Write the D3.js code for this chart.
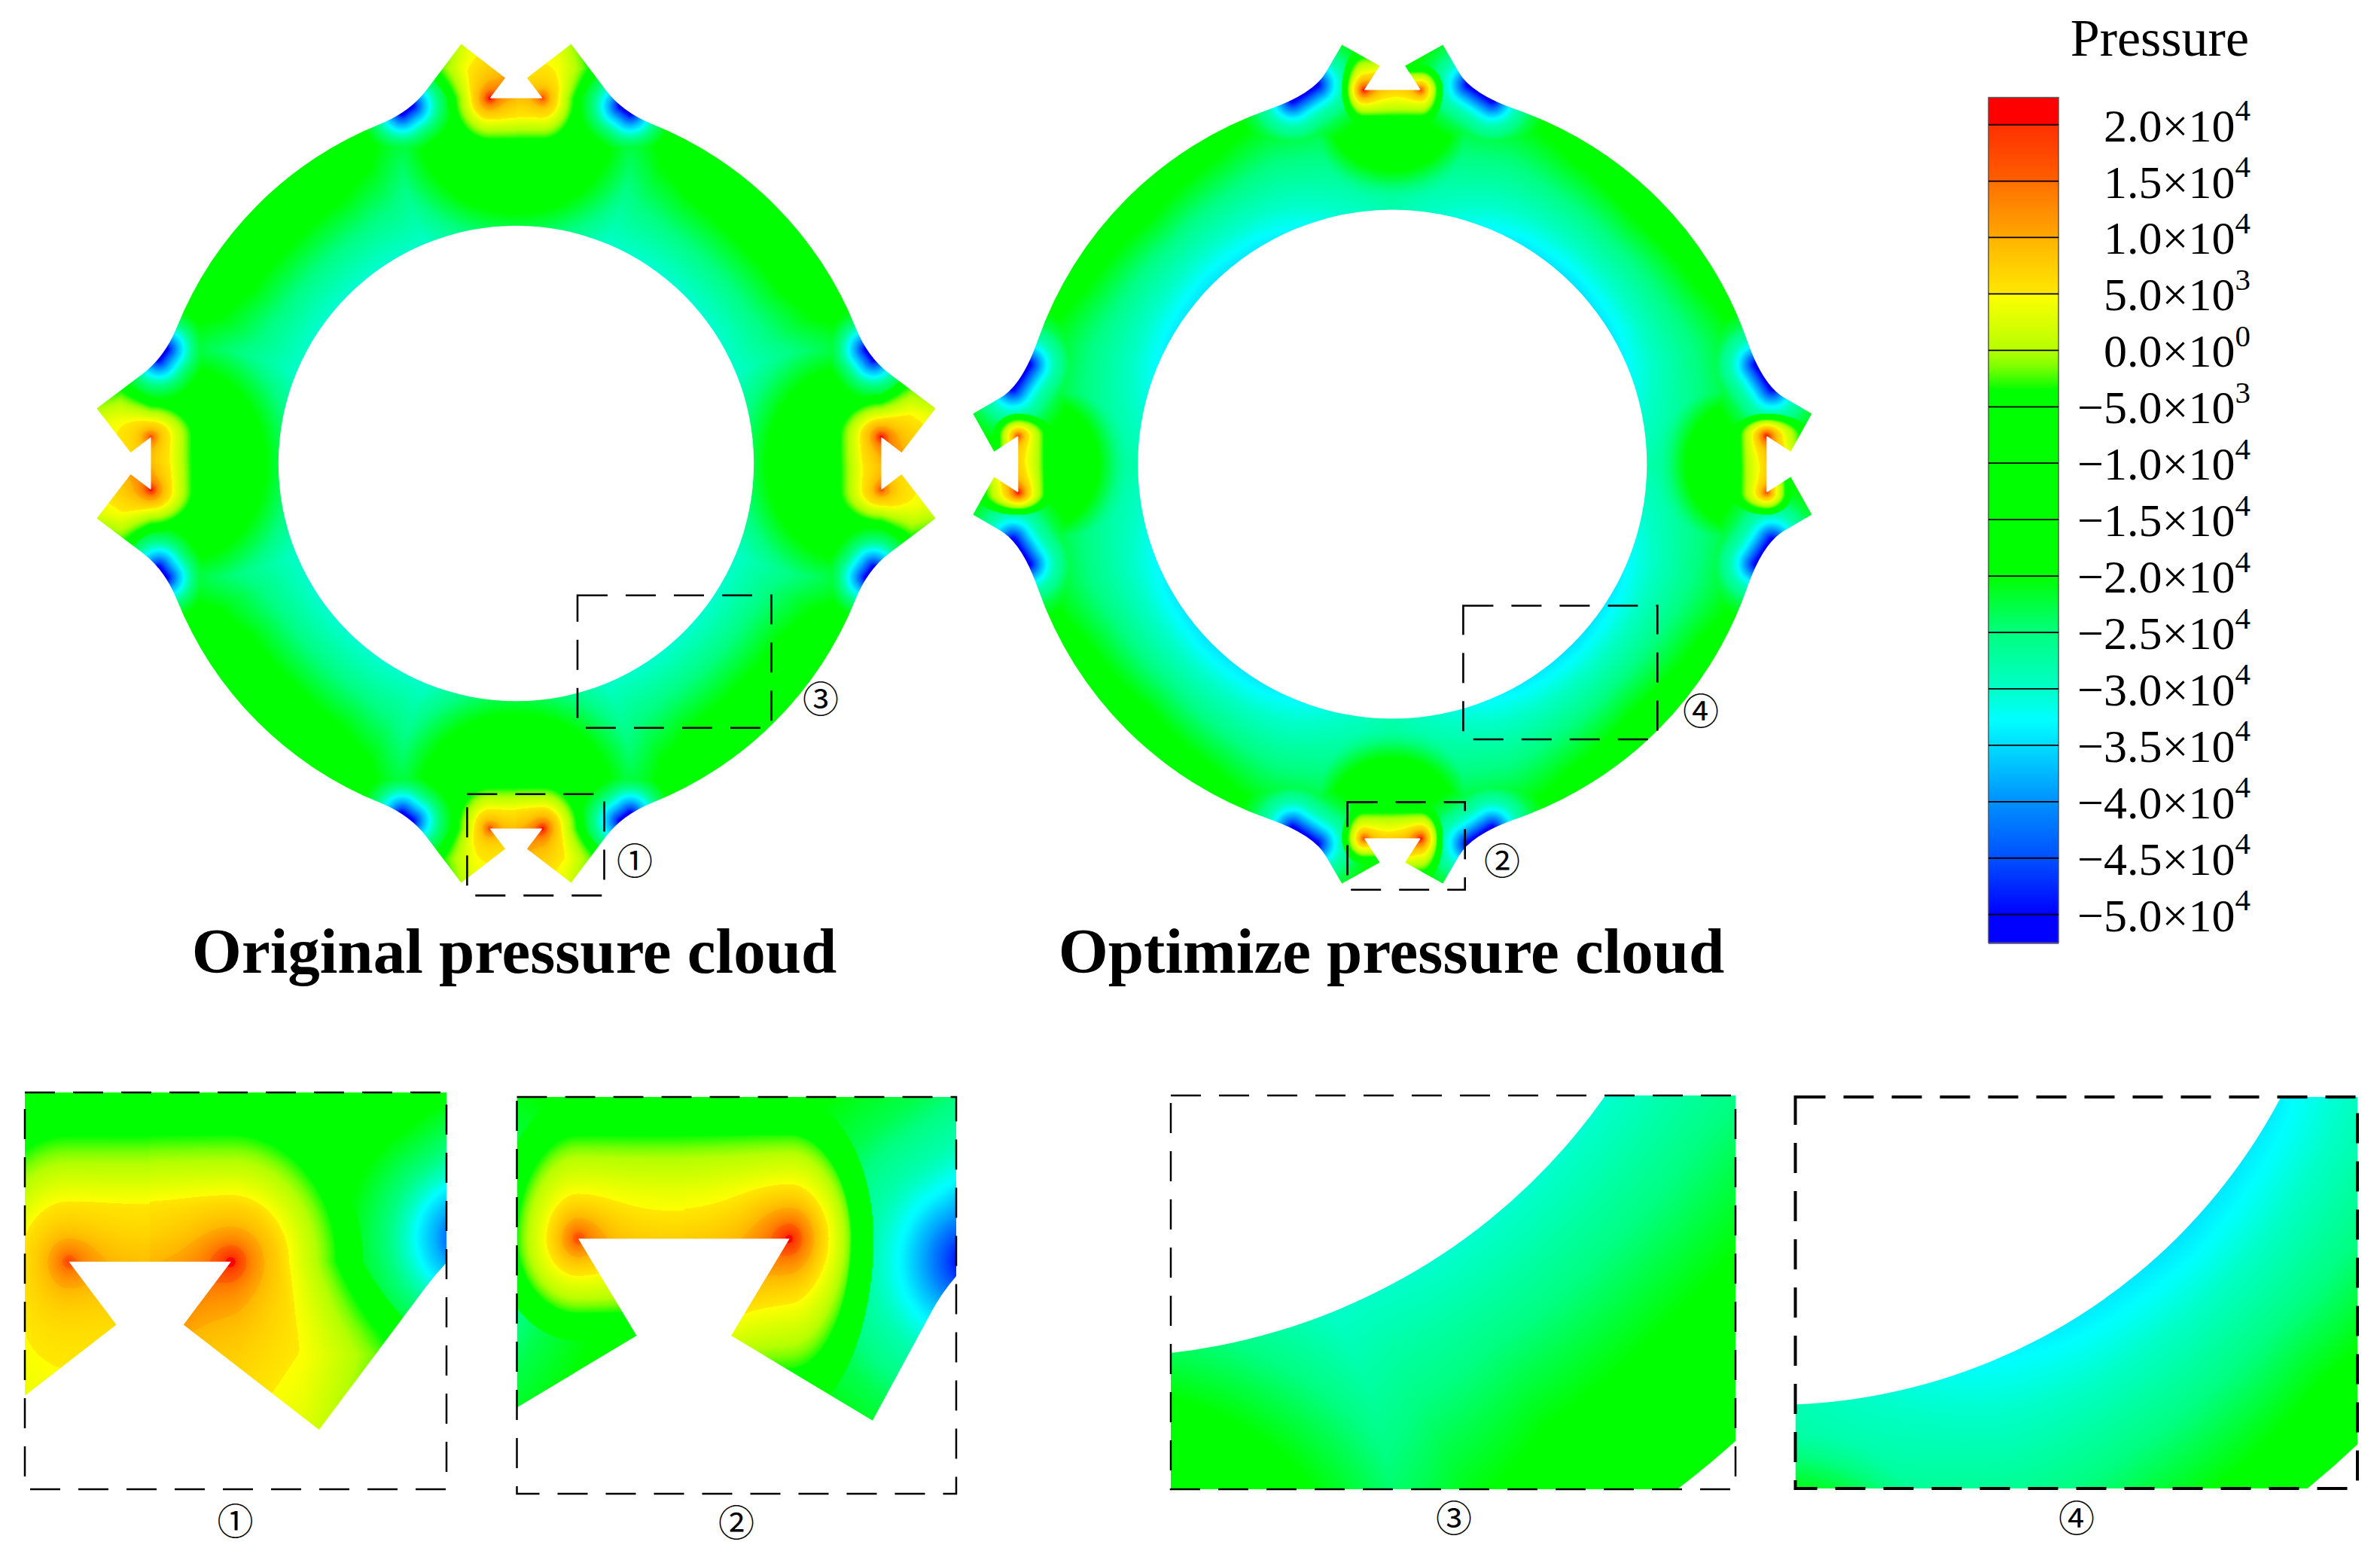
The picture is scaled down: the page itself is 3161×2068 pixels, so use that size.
<!DOCTYPE html>
<html><head><meta charset="utf-8">
<style>html,body{margin:0;padding:0;background:#fff}svg{display:block}</style>
<script src="https://cdn.jsdelivr.net/npm/d3@7/dist/d3.min.js"></script>
</head><body><div id="c"></div>
<script>
// ---------- values ----------
const tickValues=[20000,15000,10000,5000,0,-5000,-10000,-15000,-20000,-25000,-30000,-35000,-40000,-45000,-50000];
const tickMantissa=["2.0","1.5","1.0","5.0","0.0","−5.0","−1.0","−1.5","−2.0","−2.5","−3.0","−3.5","−4.0","−4.5","−5.0"];
const tickExponent=[4,4,4,3,0,3,4,4,4,4,4,4,4,4,4];
const colorValues=[22500,20001,20000,15000,14999,10000,9999,5001,5000,0,-1500,-3500,-20000,-25000,-30000,-32700,-35000,-40000,-45000,-50000];
const colorStops=["#ff0000","#ff0000","#ff3000","#ff6000","#ff7000","#ffa800","#ffb400","#ffe800","#ffff00","#b4ff00","#78ff00","#00ff00","#00ff00","#00ff80","#00ffc8","#00ffff","#00dcff","#0090ff","#0050ff","#0000ff"];
// field of ring 1 (original), pressures
const r1HotDist=[0,12,24,38,54,75], r1HotP=[8500,6500,5000,1000,-3500,-28000];
const r1ColdDist=[0,8,16,24,36,55,80], r1ColdP=[-53000,-45000,-38000,-33000,-25000,-20000,-17000];
const r1Alpha=[0,21,26,33,45], r1Contour=[490,486,440,420,417], r1InnerP=[-27000,-30000,-30000,-30500,-30500];
// field of ring 2 (optimized)
const r2HotDist=[0,8,16,26,34,55], r2HotP=[7000,5000,3000,0,-3500,-30000];
const r2ColdDist=[0,8,16,24,36,55,80], r2ColdP=[-53000,-46000,-39000,-33500,-28000,-23000,-19000];
const r2Alpha=[0,21,30,45], r2Contour=[490,490,470,458], r2InnerP=[-28000,-32500,-33800,-34500];
// ---------- geometry and layout ----------
const W=3161,H=2068;
const ring1={cx:685.5,cy:615.5,Ri:315.7,tip:[73,557],nt:[14.5,512],fl:[35,485],s:[119,496],c:[141,467],e:[180,451],
 la:127,lc:440,lb:107,K:15000,hotD:r1HotDist,hotP:r1HotP,coldD:r1ColdDist,coldP:r1ColdP,alpha:r1Alpha,cont:r1Contour,inner:r1InnerP,
 wid:.4,kHot:.3,kCold:.6,duHot:1.2,duCold:1.3,cHot:[10500,10],cCold:[9500,9],wall:[3500,18],t:[.4,.6],cap:30,decay:50};
const ring2={cx:1849.3,cy:616.6,Ri:338,tip:[67,557],nt:[16.8,529],fl:[37.5,497],s:[88,521],c:[104.5,492],e:[164.5,471],
 la:82,lc:460,lb:70,K:15000,hotD:r2HotDist,hotP:r2HotP,coldD:r2ColdDist,coldP:r2ColdP,alpha:r2Alpha,cont:r2Contour,inner:r2InnerP,
 wid:0,kHot:.8,kCold:1.4,duHot:1.6,duCold:1.6,cHot:[12500,10],cCold:[11000,8],wall:[2500,12],t:[.3,.7],cap:60,decay:0};
const panels=[
 {ring:ring1,name:"①",box:[620.4,1054.7,182.1,134.7],dest:[33,1451,560,527],src:[631.5,1028,182,170],lab:[312.6,2021],sw:2.5},
 {ring:ring2,name:"②",box:[1789.6,1065.4,156.1,116.4],dest:[686.5,1457,583.5,527],src:[1790,1066.8,156,131],lab:[978,2023],sw:2.5},
 {ring:ring1,name:"③",box:[767,790.7,257.5,176],dest:[1555,1455,750,523],src:[722,795,290,205],lab:[1931,2017],sw:2.5},
 {ring:ring2,name:"④",box:[1943.4,804.5,257.9,177.5],dest:[2384.5,1457,746.5,520],src:[1863.5,773.6,330,230],lab:[2758,2017],sw:4}
];
const boxLabels=[[843,1143.5],[1995,1143.5],[1090,929],[2259,944.5]];
const serif="'Liberation Serif','Times New Roman',serif";
// ---------- colour lookup ----------
const color=d3.scaleLinear().domain(colorValues.slice().reverse()).range(colorStops.slice().reverse()).clamp(true);
const lutMin=-55000,lutStep=10,lutN=8000;
const lut=new Uint8Array(lutN*3);
for(let i=0;i<lutN;i++){const c=d3.rgb(color(lutMin+i*lutStep));lut[i*3]=c.r;lut[i*3+1]=c.g;lut[i*3+2]=c.b;}
// ---------- field ----------
function prep(g){
 g.hotS=d3.scaleLinear().domain(g.hotD).range(g.hotP).clamp(true);
 g.coldS=d3.scaleLinear().domain(g.coldD).range(g.coldP).clamp(true);
 g.contS=d3.scaleLinear().domain(g.alpha).range(g.cont).clamp(true);
 g.inS=d3.scaleLinear().domain(g.alpha).range(g.inner).clamp(true);
 const bz=(t,i)=>(1-t)*(1-t)*g.s[i]+2*t*(1-t)*g.c[i]+t*t*g.e[i];
 g.c0=[bz(g.t[0],0),bz(g.t[0],1)];g.c1=[bz(g.t[1],0),bz(g.t[1],1)];
 g.maxR=Math.hypot(g.tip[0],g.tip[1])+3;
 g.outR=Math.hypot(g.e[0],g.e[1]);
}
prep(ring1);prep(ring2);
function segDist(px,py,ax,ay,bx,by){
 const vx=bx-ax,vy=by-ay;let t=((px-ax)*vx+(py-ay)*vy)/(vx*vx+vy*vy);t=t<0?0:t>1?1:t;
 return Math.hypot(px-ax-t*vx,py-ay-t*vy);
}
function pressure(g,x,y){
 const dx=x-g.cx,dy=y-g.cy;let u,v;
 if(Math.abs(dx)>Math.abs(dy)){if(dx>0){u=dy;v=dx}else{u=-dy;v=-dx}}
 else{if(dy<0){u=dx;v=-dy}else{u=-dx;v=dy}}
 const r=Math.hypot(dx,dy),au=Math.abs(u);
 const alpha=Math.atan2(au,v)*57.29578;
 const rc=g.contS(alpha);
 let P;
 if(r<rc)P=g.inS(alpha)+(-20000-g.inS(alpha))*(r-g.Ri)/(rc-g.Ri);
 else P=-20000+(r-rc)*60;
 const s=Math.hypot(au/g.la,(v-g.lc)/g.lb);
 P=Math.max(P,Math.min(-12000,-20000+g.K*(1-s)));
 const d2=segDist(au,v,g.c0[0],g.c0[1],g.c1[0],g.c1[1]);
 if(d2<90)P=Math.min(P,g.coldS(d2));
 const a=g.fl[0],f=g.fl[1],hot=u<0;
 if(au<a+130&&v>f-120){
  const above=Math.max(v-f,0),below=Math.max(f-v,0);
  const du=Math.max(au-a,0)*(hot?g.duHot:g.duCold)*(1-g.wid*Math.min(1,above/40));
  const k=(hot?g.kHot:g.kCold)*Math.min(above,g.cap);
  const d=Math.sqrt(du*du+below*below+k*k);
  let Ph=g.hotS(d)-g.decay*Math.max(above-30,0);
  const dh=Math.hypot(u+a,v-f),dc=Math.hypot(u-a,v-f);
  Ph+=g.cHot[0]*Math.exp(-dh/g.cHot[1])+g.cCold[0]*Math.exp(-dc/g.cCold[1]);
  if(hot){const dw=segDist(u,v,-a,f,-g.nt[0],g.nt[1]);Ph+=g.wall[0]*Math.exp(-dw/g.wall[1]);}
  if(Ph>-20000)P=Math.max(P,Ph);
 }
 return P;
}
function fieldImage(g,x0,y0,w,h,pw,ph){
 const cv=document.createElement("canvas");cv.width=pw;cv.height=ph;
 const ctx=cv.getContext("2d"),im=ctx.createImageData(pw,ph),D=im.data;
 const sx=w/pw,sy=h/ph;
 for(let j=0;j<ph;j++){const y=y0+(j+.5)*sy;
  for(let i=0;i<pw;i++){const x=x0+(i+.5)*sx;
   const rr=Math.hypot(x-g.cx,y-g.cy),q=(i+j*pw)*4;
   if(rr<g.Ri-3||rr>g.maxR){D[q+3]=0;continue;}
   let n=Math.round((pressure(g,x,y)-lutMin)/lutStep);n=n<0?0:n>=lutN?lutN-1:n;
   D[q]=lut[n*3];D[q+1]=lut[n*3+1];D[q+2]=lut[n*3+2];D[q+3]=255;
  }}
 ctx.putImageData(im,0,0);return cv.toDataURL("image/png");
}
function shape(g){
 const p=d3.path(),cx=g.cx,cy=g.cy;
 const fr=[(u,v)=>[cx+u,cy-v],(u,v)=>[cx+v,cy+u],(u,v)=>[cx-u,cy+v],(u,v)=>[cx-v,cy-u]];
 fr.forEach((F,k)=>{
  const pt=(a,sg)=>F(sg*a[0],a[1]);
  const e0=pt(g.e,-1);
  if(k===0)p.moveTo(...e0);
  p.lineTo(...e0);
  p.quadraticCurveTo(...pt(g.c,-1),...pt(g.s,-1));
  p.lineTo(...pt(g.tip,-1));p.lineTo(...pt(g.nt,-1));p.lineTo(...pt(g.fl,-1));
  p.lineTo(...pt(g.fl,1));p.lineTo(...pt(g.nt,1));p.lineTo(...pt(g.tip,1));p.lineTo(...pt(g.s,1));
  const e1=pt(g.e,1);
  p.quadraticCurveTo(...pt(g.c,1),...e1);
  const N=fr[(k+1)%4],e2=N(-g.e[0],g.e[1]);
  p.arc(cx,cy,g.outR,Math.atan2(e1[1]-cy,e1[0]-cx),Math.atan2(e2[1]-cy,e2[0]-cx),false);
 });
 p.closePath();
 p.moveTo(cx+g.Ri,cy);p.arc(cx,cy,g.Ri,0,Math.PI*2,false);p.closePath();
 return p.toString();
}
// ---------- draw ----------
const svg=d3.select("#c").append("svg").attr("width",W).attr("height",H).attr("viewBox",`0 0 ${W} ${H}`);
svg.append("rect").attr("width",W).attr("height",H).attr("fill","#fff");
const defs=svg.append("defs");
[ring1,ring2].forEach((g,i)=>{
 g.id="shape"+i;
 defs.append("clipPath").attr("id",g.id).append("path").attr("d",shape(g)).attr("clip-rule","evenodd");
 const ext=g.maxR+2,x0=g.cx-ext,y0=g.cy-ext,n=Math.ceil(ext*2);
 svg.append("image").attr("x",x0).attr("y",y0).attr("width",n).attr("height",n)
  .attr("href",fieldImage(g,x0,y0,n,n,n,n)).attr("clip-path",`url(#${g.id})`);
});
panels.forEach((P,i)=>{
 const [sx,sy,sw,sh]=P.src,[dx,dy,dw,dh]=P.dest;
 const X=d3.scaleLinear().domain([sx,sx+sw]).range([dx,dx+dw]);
 const Y=d3.scaleLinear().domain([sy,sy+sh]).range([dy,dy+dh]);
 defs.append("clipPath").attr("id","pc"+i).append("rect").attr("x",dx).attr("y",dy).attr("width",dw).attr("height",dh);
 const kx=dw/sw,ky=dh/sh;
 svg.append("g").attr("clip-path",`url(#pc${i})`)
  .append("g").attr("transform",`translate(${X(0)},${Y(0)}) scale(${kx},${ky})`)
  .append("image").attr("x",sx).attr("y",sy).attr("width",sw).attr("height",sh).attr("preserveAspectRatio","none")
  .attr("href",fieldImage(P.ring,sx,sy,sw,sh,Math.round(dw),Math.round(dh)))
  .attr("clip-path",`url(#${P.ring.id})`);
 svg.append("rect").attr("x",dx).attr("y",dy).attr("width",dw).attr("height",dh)
  .attr("fill","none").attr("stroke","#000").attr("stroke-width",P.sw).attr("stroke-dasharray","40 24");
 svg.append("rect").attr("x",P.box[0]).attr("y",P.box[1]).attr("width",P.box[2]).attr("height",P.box[3])
  .attr("fill","none").attr("stroke","#000").attr("stroke-width",2.6).attr("stroke-dasharray","40 24");
 svg.append("text").attr("x",P.lab[0]).attr("y",P.lab[1]).attr("dy","0.36em").attr("text-anchor","middle")
  .attr("font-family","'Noto Sans CJK SC'").attr("font-size",48).text(P.name);
 svg.append("text").attr("x",boxLabels[i][0]).attr("y",boxLabels[i][1]).attr("dy","0.36em").attr("text-anchor","middle")
  .attr("font-family","'Noto Sans CJK SC'").attr("font-size",48).text(P.name);
});
// colour bar
const barX=2641,barW=93,barTop=129.5,barBot=1252;
const yBar=d3.scaleLinear().domain([20000,-50000]).range([165.6,1214.7]);
svg.append("g").selectAll("rect").data(d3.range(barTop,barBot,1.5)).join("rect")
 .attr("x",barX).attr("width",barW).attr("y",d=>d).attr("height",2)
 .attr("fill",d=>color(yBar.invert(d)));
svg.append("rect").attr("x",barX).attr("y",barTop).attr("width",barW).attr("height",barBot-barTop)
 .attr("fill","none").attr("stroke","#555").attr("stroke-width",1.5);
svg.append("g").selectAll("line").data(tickValues).join("line")
 .attr("x1",barX).attr("x2",barX+barW).attr("y1",d=>yBar(d)).attr("y2",d=>yBar(d))
 .attr("stroke","#000").attr("stroke-width",1.8);
const tl=svg.append("g").attr("font-family",serif).attr("fill","#000").selectAll("text").data(tickValues).join("text")
 .attr("x",2989).attr("y",d=>yBar(d)+22).attr("text-anchor","end").attr("font-size",62);
tl.append("tspan").text((d,i)=>tickMantissa[i]+"×10");
tl.append("tspan").attr("dy",-27.5).attr("font-size",41).text((d,i)=>tickExponent[i]);
svg.append("text").attr("x",2987).attr("y",73.7).attr("text-anchor","end").attr("font-family",serif).attr("font-size",70).text("Pressure");
svg.append("text").attr("x",683).attr("y",1292).attr("text-anchor","middle").attr("font-family",serif).attr("font-weight","bold").attr("font-size",85).text("Original pressure cloud");
svg.append("text").attr("x",1848).attr("y",1292).attr("text-anchor","middle").attr("font-family",serif).attr("font-weight","bold").attr("font-size",85).text("Optimize pressure cloud");
</script></body></html>
